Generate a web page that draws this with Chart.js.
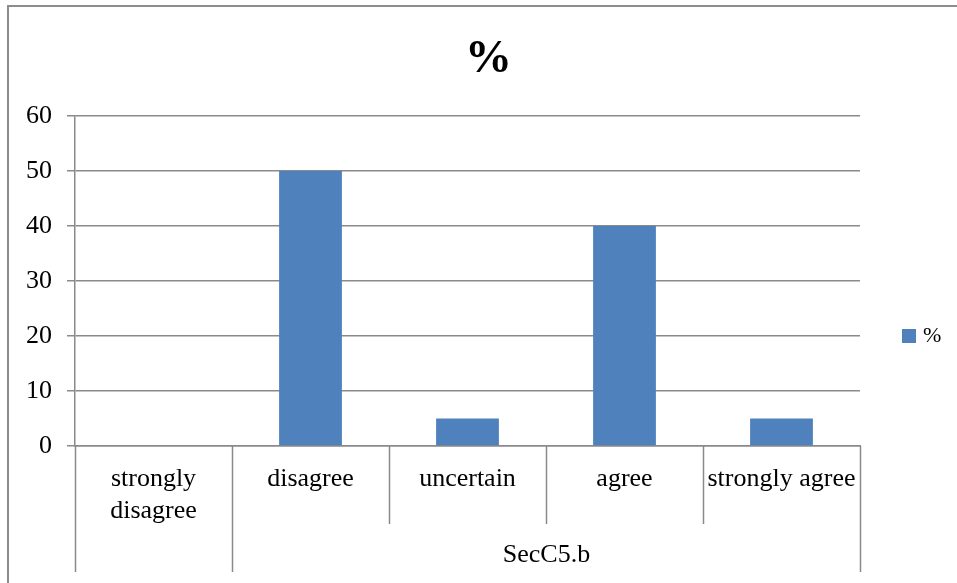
<!DOCTYPE html>
<html>
<head>
<meta charset="utf-8">
<script src="https://cdn.jsdelivr.net/npm/chart.js@4"></script>
<style>
  html, body { margin: 0; padding: 0; background: #ffffff; }
  #wrap { width: 957px; height: 583px; }
</style>
</head>
<body>
<div id="wrap"><canvas id="chart" width="957" height="583"></canvas></div>
<script>
// Survey answers for item SecC5.b, in percent
const categories = [['strongly', 'disagree'], 'disagree', 'uncertain', 'agree', 'strongly agree'];
const percentValues = [0, 50, 5, 40, 5];
const seriesName = '%';
const chartTitle = '%';

// Outer category level: label and number of inner categories it spans
const groupLabels = ['', 'SecC5.b'];
const groupSpans = [1, 4];

// Value axis range
const yMin = 0;
const yMax = 60;
const yStep = 10;

const FONT = 'Liberation Serif';
const GRID = '#8a8a8a';
const BAR = '#4f81bd';

// White page with the frame round the chart
const framePlugin = {
  id: 'frame',
  beforeDraw(chart) {
    const ctx = chart.ctx;
    ctx.save();
    ctx.fillStyle = '#ffffff';
    ctx.fillRect(0, 0, chart.width, chart.height);
    ctx.strokeStyle = '#8c8c8c';
    ctx.lineWidth = 2;
    ctx.strokeRect(8, 6, chart.width + 20, chart.height + 20);
    ctx.restore();
  }
};

// Two-level category axis: dividers between categories and between groups,
// plus the group names
const groupAxisPlugin = {
  id: 'groupAxis',
  afterDraw(chart) {
    const x = chart.scales.x;
    const ctx = chart.ctx;
    const half = (x.getPixelForValue(1) - x.getPixelForValue(0)) / 2;
    const edge = i => Math.round(x.getPixelForValue(i) - half) + 0.5;
    const axisY = chart.chartArea.bottom;
    const innerBottom = axisY + 78;
    const outerBottom = innerBottom + 48;

    let start = 0;
    const bounds = [0];
    groupSpans.forEach(span => { start += span; bounds.push(start); });

    ctx.save();
    ctx.strokeStyle = GRID;
    ctx.lineWidth = 1.5;
    for (let i = 0; i <= categories.length; i++) {
      const px = edge(i);
      ctx.beginPath();
      ctx.moveTo(px, axisY);
      ctx.lineTo(px, bounds.includes(i) ? outerBottom : innerBottom);
      ctx.stroke();
    }
    ctx.fillStyle = '#000000';
    ctx.font = '26px "' + FONT + '"';
    ctx.textAlign = 'center';
    ctx.textBaseline = 'middle';
    groupLabels.forEach((label, g) => {
      if (!label) return;
      const cx = (edge(bounds[g]) + edge(bounds[g + 1])) / 2;
      ctx.fillText(label, cx, innerBottom + 31);
    });
    ctx.restore();
  }
};

// Legend box to the right of the plot
const sideLegendPlugin = {
  id: 'sideLegend',
  afterDraw(chart) {
    const ctx = chart.ctx;
    const ds = chart.data.datasets[0];
    const bx = chart.chartArea.right + 42;
    const cy = 336;
    ctx.save();
    ctx.fillStyle = ds.backgroundColor;
    ctx.fillRect(bx, cy - 7, 14, 14);
    ctx.fillStyle = '#000000';
    ctx.font = '22px "' + FONT + '"';
    ctx.textAlign = 'left';
    ctx.textBaseline = 'middle';
    ctx.fillText(ds.label, bx + 21, cy);
    ctx.restore();
  }
};

Chart.defaults.color = '#000000';
Chart.defaults.font.family = FONT;

new Chart(document.getElementById('chart'), {
  type: 'bar',
  data: {
    labels: categories,
    datasets: [{
      label: seriesName,
      data: percentValues,
      backgroundColor: BAR,
      borderWidth: 0,
      categoryPercentage: 1,
      barPercentage: 0.4
    }]
  },
  options: {
    responsive: false,
    devicePixelRatio: 1,
    animation: false,
    layout: { padding: { left: 20, right: 0, top: 0, bottom: 0 } },
    plugins: {
      legend: { display: false },
      tooltip: { enabled: false },
      title: {
        display: true,
        text: chartTitle,
        color: '#000000',
        font: { family: FONT, size: 47, weight: 'bold', lineHeight: 1.2 },
        padding: { top: 32, bottom: 27.6 }
      }
    },
    scales: {
      x: {
        position: 'bottom',
        grid: { display: false },
        border: { display: true, color: GRID, width: 1.5 },
        ticks: {
          autoSkip: false,
          maxRotation: 0,
          minRotation: 0,
          padding: 10,
          font: { family: FONT, size: 26, lineHeight: 1.2 },
          color: '#000000'
        },
        afterFit(scale) { scale.height = 137; }
      },
      y: {
        position: 'left',
        min: yMin,
        max: yMax,
        ticks: {
          stepSize: yStep,
          padding: 15,
          font: { family: FONT, size: 26 },
          color: '#000000'
        },
        grid: { color: GRID, lineWidth: 1.5, tickLength: 8 },
        border: { display: true, color: GRID, width: 1.5 },
        afterFit(scale) { scale.width = 55; }
      },
      side: {
        type: 'linear',
        position: 'right',
        display: true,
        grid: { display: false, drawTicks: false },
        ticks: { display: false },
        border: { display: false },
        afterFit(scale) { scale.width = 97; }
      }
    }
  },
  plugins: [framePlugin, groupAxisPlugin, sideLegendPlugin]
});
</script>
</body>
</html>
